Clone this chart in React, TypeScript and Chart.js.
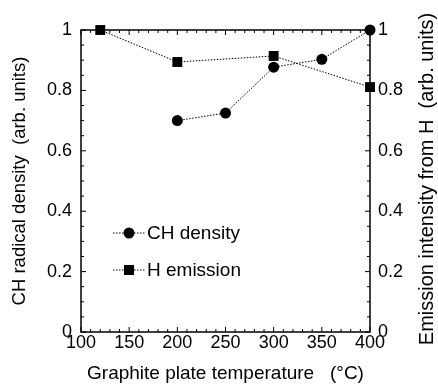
import React, { useEffect, useRef } from "react";
import { Chart, registerables } from "chart.js";

Chart.register(...registerables);

const chTemps = [200, 250, 300, 350, 400];
const chDensity = [0.70, 0.725, 0.877, 0.903, 1.0];
const hTemps = [120, 200, 300, 400];
const hEmission = [1.0, 0.894, 0.914, 0.811];
const xTicks = [100, 150, 200, 250, 300, 350, 400];
const yTicks = [0, 0.2, 0.4, 0.6, 0.8, 1];
const seriesLabels = ["CH density", "H emission"];
const xTitle = "Graphite plate temperature   (\u00B0C)";
const yTitle = "CH radical density  (arb. units)";
const y2Title = "Emission intensity from H  (arb. units)";

const FONT = "'Liberation Sans', Arial, sans-serif";

const fmt = (v: number) => (v === 0 ? "0" : v === 1 ? "1" : String(v));

const framePlugin = {
  id: "frame",
  afterDraw(chart: any) {
    const { ctx, chartArea: a, scales } = chart;
    const x = scales.x, y = scales.y, y2 = scales.y2;
    ctx.save();
    ctx.strokeStyle = "#000";
    ctx.lineWidth = 1.5;
    ctx.strokeRect(a.left, a.top, a.right - a.left, a.bottom - a.top);
    ctx.lineWidth = 1;
    ctx.beginPath();
    for (let v = 100; v <= 400; v += 10) {
      const px = x.getPixelForValue(v);
      const len = v % 50 === 0 ? 5 : 3;
      ctx.moveTo(px, a.bottom);
      ctx.lineTo(px, a.bottom - len);
      ctx.moveTo(px, a.top);
      ctx.lineTo(px, a.top + len);
    }
    for (let i = 0; i <= 20; i++) {
      const v = i * 0.05;
      const len = i % 4 === 0 ? 5 : 3;
      const py = y.getPixelForValue(v);
      ctx.moveTo(a.left, py);
      ctx.lineTo(a.left + len, py);
      const py2 = y2.getPixelForValue(v);
      ctx.moveTo(a.right, py2);
      ctx.lineTo(a.right - len, py2);
    }
    ctx.stroke();

    // right axis title, reading bottom-to-top
    ctx.save();
    ctx.translate(427, 179);
    ctx.rotate(-Math.PI / 2);
    ctx.fillStyle = "#000";
    ctx.font = `20px ${FONT}`;
    ctx.textAlign = "center";
    ctx.textBaseline = "middle";
    ctx.fillText(y2Title, 0, 0);
    ctx.restore();

    // legend
    const items = chart.data.datasets;
    const lx0 = 113, lx1 = 145, mx = 129;
    const ly = [233, 270];
    items.forEach((ds: any, i: number) => {
      const yy = ly[i];
      ctx.save();
      ctx.strokeStyle = "#000";
      ctx.lineWidth = 1;
      ctx.setLineDash([1.5, 1.5]);
      ctx.beginPath();
      ctx.moveTo(lx0, yy);
      ctx.lineTo(lx1, yy);
      ctx.stroke();
      ctx.restore();
      ctx.fillStyle = "#000";
      ctx.beginPath();
      if (ds.pointStyle === "rect") {
        ctx.rect(mx - 5, yy - 5, 10, 10);
      } else {
        ctx.arc(mx, yy, 5.5, 0, Math.PI * 2);
      }
      ctx.fill();
      ctx.font = `19px ${FONT}`;
      ctx.textBaseline = "middle";
      ctx.textAlign = "left";
      ctx.fillText(ds.label, 147, yy + 1);
    });
    ctx.restore();
  },
};

export default function App() {
  const ref = useRef<HTMLCanvasElement>(null);
  useEffect(() => {
    document.body.style.margin = "0";
    const chart = new Chart(ref.current!, {
      type: "line",
      data: {
        datasets: [
          {
            label: seriesLabels[0],
            data: chTemps.map((t, i) => ({ x: t, y: chDensity[i] })),
            yAxisID: "y",
            borderColor: "#000",
            backgroundColor: "#000",
            borderWidth: 1,
            borderDash: [1.5, 1.5],
            pointStyle: "circle",
            pointRadius: 5.5,
            pointBorderWidth: 0,
            clip: false,
          },
          {
            label: seriesLabels[1],
            data: hTemps.map((t, i) => ({ x: t, y: hEmission[i] })),
            yAxisID: "y2",
            borderColor: "#000",
            backgroundColor: "#000",
            borderWidth: 1,
            borderDash: [1.5, 1.5],
            pointStyle: "rect",
            pointRadius: 7,
            pointBorderWidth: 0,
            clip: false,
          },
        ],
      },
      options: {
        animation: false,
        responsive: false,
        layout: { padding: { top: 30, left: 0, right: 0, bottom: 0 } },
        plugins: { legend: { display: false }, tooltip: { enabled: false } },
        scales: {
          x: {
            type: "linear",
            min: 100,
            max: 400,
            afterFit: (s: any) => { s.height = 53; },
            afterBuildTicks: (s: any) => { s.ticks = xTicks.map((v) => ({ value: v })); },
            grid: { display: false, drawTicks: false },
            border: { display: false },
            ticks: { color: "#000", font: { family: FONT, size: 18 }, padding: 0, maxRotation: 0, callback: (v: any) => String(v) },
            title: { display: true, text: xTitle, color: "#000", font: { family: FONT, size: 19 }, padding: { top: 0, bottom: 0 } },
          },
          y: {
            type: "linear",
            position: "left",
            min: 0,
            max: 1,
            afterFit: (s: any) => { s.width = 81; },
            afterBuildTicks: (s: any) => { s.ticks = yTicks.map((v) => ({ value: v })); },
            grid: { display: false, drawTicks: false },
            border: { display: false },
            ticks: { color: "#000", font: { family: FONT, size: 18 }, padding: 9, callback: (v: any) => fmt(v) },
            title: { display: true, text: yTitle, color: "#000", font: { family: FONT, size: 18.5 }, padding: { top: 9, bottom: 0 } },
          },
          y2: {
            type: "linear",
            position: "right",
            min: 0,
            max: 1,
            afterFit: (s: any) => { s.width = 68; },
            afterBuildTicks: (s: any) => { s.ticks = yTicks.map((v) => ({ value: v })); },
            grid: { display: false, drawTicks: false },
            border: { display: false },
            ticks: { color: "#000", font: { family: FONT, size: 18 }, padding: 8, callback: (v: any) => fmt(v) },
            title: { display: false },
          },
        },
      },
      plugins: [framePlugin],
    });
    return () => chart.destroy();
  }, []);
  return (
    <div style={{ width: 438, height: 385 }}>
      <canvas ref={ref} width={438} height={385} style={{ display: "block" }} />
    </div>
  );
}
